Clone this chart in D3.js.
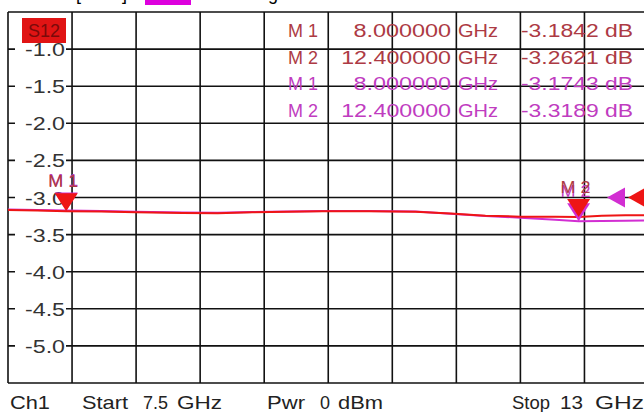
<!DOCTYPE html>
<html lang="en">
<head>
<meta charset="UTF-8">
<title>S12 dB Mag</title>
<script src="https://d3js.org/d3.v7.min.js"></script>
<style>
  html, body { margin: 0; background: #fff; }
  body { width: 644px; height: 412px; overflow: hidden; }
  svg text { font-family: "Liberation Sans", Arial, sans-serif; }
</style>
</head>
<body>
<div id="container"></div>
<script>
// sweep points (GHz) and the two traces (dB)
const freqs = [7.5, 7.75, 8.0, 8.3, 8.6, 9.0, 9.3, 9.6, 9.9, 10.2, 10.6, 11.0, 11.3, 11.6, 11.9, 12.2, 12.4, 12.6, 12.8, 13.0];
const trc1 = [-3.170, -3.176, -3.184, -3.190, -3.198, -3.208, -3.212, -3.200, -3.192, -3.186, -3.186, -3.192, -3.215, -3.245, -3.258, -3.260, -3.262, -3.246, -3.240, -3.238];
const trc2 = [-3.162, -3.168, -3.174, -3.183, -3.192, -3.203, -3.207, -3.196, -3.188, -3.181, -3.182, -3.190, -3.218, -3.250, -3.272, -3.300, -3.319, -3.316, -3.312, -3.310];

const yTicks = [-1.0, -1.5, -2.0, -2.5, -3.0, -3.5, -4.0, -4.5, -5.0];
const markerNames = ["M 1", "M 2"];
const markerFreqs = [8.0, 12.4];
const trc1Markers = [-3.1842, -3.2621];
const trc2Markers = [-3.1743, -3.3189];
const refLevel = -3.0;
const footerTexts = ["Ch1", "Start", "7.5", "GHz", "Pwr", "0", "dBm", "Stop", "13", "GHz"];

const red = "#ee1515", magenta = "#d22ed2";
const redText = "#ad3a44", magentaText = "#c03cc0";

const width = 644, height = 412;
const plotL = 8, plotR = 648.5, plotT = 12, plotB = 383;

const svg = d3.select("#container").append("svg")
    .attr("width", width)
    .attr("height", height);

const x = d3.scaleLinear().domain([7.5, 13]).range([plotL, plotR]);
const y = d3.scaleLinear().domain([-0.5, -5.5]).range([plotT, plotB]);

// header (cut off at the top, only descenders show)
const headY = -0.5;
svg.append("text").attr("x", 20).attr("y", headY).attr("font-size", 18).attr("fill", "#000")
    .text("Trc1");
svg.append("text").attr("x", 76).attr("y", headY).attr("font-size", 18).attr("fill", "#000")
    .attr("textLength", 51).text("[S12]");
svg.append("rect").attr("x", 145).attr("y", -12).attr("width", 46).attr("height", 17).attr("fill", "#dd00dd");
svg.append("text").attr("x", 216).attr("y", headY).attr("font-size", 18).attr("fill", "#000")
    .text("dB Mag  0.5 dB / Ref -3 dB");

// grid
const xGrid = d3.range(11).map(i => 7.5 + i * 0.55);
const yGrid = d3.range(11).map(i => -0.5 - i * 0.5);

svg.append("g").selectAll("line")
    .data(xGrid).enter().append("line")
    .attr("x1", d => x(d)).attr("x2", d => x(d))
    .attr("y1", plotT).attr("y2", plotB)
    .attr("stroke", "#111").attr("stroke-width", 1.6);

svg.append("g").selectAll("line")
    .data(yGrid).enter().append("line")
    .attr("x1", plotL).attr("x2", plotR)
    .attr("y1", d => y(d)).attr("y2", d => y(d))
    .attr("stroke", "#111").attr("stroke-width", 1.6);

// y labels sit on a white patch over the first column
const yLab = svg.append("g").selectAll("g")
    .data(yTicks).enter().append("g");
yLab.append("rect")
    .attr("x", 15).attr("y", d => y(d) - 8)
    .attr("width", 51).attr("height", 16)
    .attr("fill", "#fff");
yLab.append("text")
    .attr("x", 25).attr("y", d => y(d) + 7)
    .attr("font-size", 18).attr("fill", "#333")
    .attr("textLength", 40).attr("lengthAdjust", "spacingAndGlyphs")
    .text(d => d.toFixed(1));

// S12 tag
svg.append("rect").attr("x", 22).attr("y", 18).attr("width", 44).attr("height", 25).attr("fill", "#e01414");
svg.append("text").attr("x", 44).attr("y", 37).attr("text-anchor", "middle")
    .attr("font-size", 18).attr("fill", "#7a0a0a").text("S12");

// marker table
const rows = [
    ...markerNames.map((m, i) => ({ name: m, f: markerFreqs[i], v: trc1Markers[i], c: redText })),
    ...markerNames.map((m, i) => ({ name: m, f: markerFreqs[i], v: trc2Markers[i], c: magentaText }))
];
const rowY = i => 37 + i * 26.5;
const row = svg.append("g").selectAll("g").data(rows).enter().append("g")
    .attr("font-size", 18).attr("fill", d => d.c);
row.append("text").attr("x", 288).attr("y", (d, i) => rowY(i))
    .attr("textLength", 30).attr("lengthAdjust", "spacingAndGlyphs").text(d => d.name);
row.append("text").attr("x", d => 451 - d.f.toFixed(6).length * 12.2).attr("y", (d, i) => rowY(i))
    .attr("textLength", d => d.f.toFixed(6).length * 12.2).attr("lengthAdjust", "spacingAndGlyphs")
    .text(d => d.f.toFixed(6));
row.append("text").attr("x", 458).attr("y", (d, i) => rowY(i))
    .attr("textLength", 40).attr("lengthAdjust", "spacingAndGlyphs").text("GHz");
row.append("text").attr("x", 521).attr("y", (d, i) => rowY(i))
    .attr("textLength", 112).attr("lengthAdjust", "spacingAndGlyphs").text(d => d.v.toFixed(4) + " dB");

// traces
const line = d3.line().x((d, i) => x(freqs[i])).y(d => y(d));
svg.append("path").datum(trc2).attr("d", line)
    .attr("fill", "none").attr("stroke", magenta).attr("stroke-width", 2);
svg.append("path").datum(trc1).attr("d", line)
    .attr("fill", "none").attr("stroke", red).attr("stroke-width", 2);

// markers (trace 2 first, trace 1 on top)
const tri = "M-11.5,-18L11.5,-18L0,0Z";
[[trc2Markers, magenta, magentaText], [trc1Markers, red, redText]].forEach(([vals, col, tcol]) => {
    markerFreqs.forEach((f, i) => {
        svg.append("path").attr("d", tri)
            .attr("transform", `translate(${x(f)},${y(vals[i])})`)
            .attr("fill", col);
        svg.append("text").attr("x", x(f) - 3).attr("y", y(vals[i]) - 24)
            .attr("text-anchor", "middle").attr("font-size", 17).attr("fill", tcol)
            .attr("textLength", 30).attr("lengthAdjust", "spacingAndGlyphs")
            .text(markerNames[i]);
    });
});

// reference level arrows at the right edge
const refTri = "M0,0L18,-10L18,10Z";
svg.append("path").attr("d", refTri).attr("transform", `translate(607,${y(refLevel)})`).attr("fill", magenta);
svg.append("path").attr("d", refTri).attr("transform", `translate(628,${y(refLevel)})`).attr("fill", red);

// footer
const footerX = [10, 82, 143, 177, 267, 320, 338, 512, 560, 595];
const footerW = [40, 46, 25, 45, 38, 10, 45, 38, 23, 49];
svg.append("g").selectAll("text").data(footerTexts).enter().append("text")
    .attr("x", (d, i) => footerX[i]).attr("y", 409)
    .attr("font-size", 19).attr("fill", "#222")
    .attr("textLength", (d, i) => footerW[i]).attr("lengthAdjust", "spacingAndGlyphs")
    .text(d => d);
</script>
</body>
</html>
